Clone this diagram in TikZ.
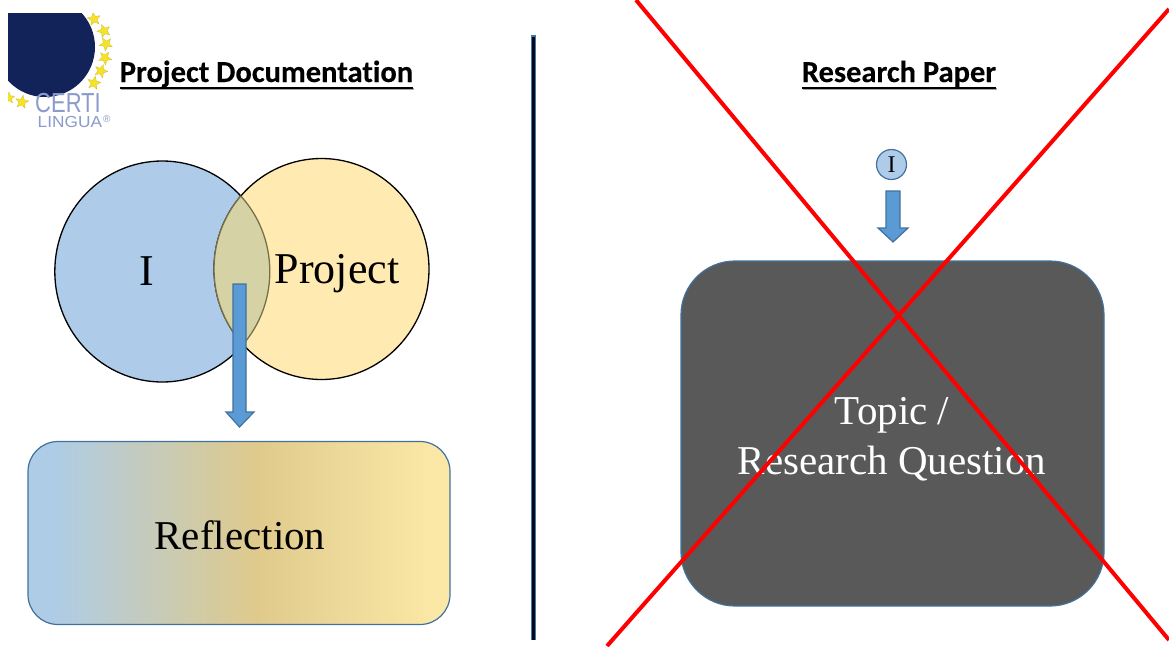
\documentclass[tikz,border=0pt]{standalone}
\usepackage{fontspec}
\setmainfont{Liberation Serif}
\newfontfamily\headfont[Ligatures={NoCommon},FakeBold=0.25]{Carlito}
\newfontfamily\logofont{Liberation Sans}
\usetikzlibrary{shapes.geometric,shapes.arrows}
\definecolor{ablue}{HTML}{5B9BD5}
\definecolor{edgeblue}{HTML}{41719C}
\definecolor{cblue}{HTML}{AECCEA}
\definecolor{cyellow}{HTML}{FFEAB2}
\definecolor{overlapc}{HTML}{D5D3A6}
\definecolor{overlapedge}{HTML}{7A7048}
\definecolor{navy}{HTML}{12235A}
\definecolor{logotxt}{HTML}{8C9BCB}
\definecolor{starc}{HTML}{F7E22B}
\definecolor{darkbox}{HTML}{595959}
\pgfdeclarehorizontalshading{refgrad}{100bp}{
  color(0bp)=({rgb,255:red,174;green,204;blue,230});
  color(28bp)=({rgb,255:red,174;green,204;blue,230});
  color(52bp)=({rgb,255:red,223;green,202;blue,140});
  color(73bp)=({rgb,255:red,251;green,232;blue,166});
  color(100bp)=({rgb,255:red,251;green,232;blue,166})}
\tikzset{
  x=1pt,y=-1pt,
  serif44/.style={font=\fontsize{44}{44}\selectfont,anchor=base,inner sep=0pt},
  serif41/.style={font=\fontsize{41}{41}\selectfont,anchor=base,inner sep=0pt},
  headtext/.style={font=\headfont\bfseries\fontsize{30.5}{30}\selectfont,anchor=base,inner sep=0pt},
  vennc/.style={ellipse,draw=black,line width=1.3pt,minimum width=215pt,minimum height=221pt,inner sep=0pt},
  downarrow/.style={draw=edgeblue,line width=1.2pt,fill=ablue,line join=miter},
  logostar/.style={star,star points=5,star point ratio=2.3,fill=starc,draw=starc!80!black,line width=.2pt,minimum size=14pt,inner sep=0pt},
  redline/.style={draw=red,line width=4pt},
}
\begin{document}
\begin{tikzpicture}
\useasboundingbox (0,0) rectangle (1169,646);
\fill[white] (0,0) rectangle (1169,646);

% logo
\begin{scope}
\clip (8,13) rectangle (120,130);
\fill[navy] (45,47) circle[radius=50];
\foreach \n/\px/\py/\r in {a/94/19/10,b/104/31/20,c/106/44/30,d/105/58/40,e/101/71/50,f/94/83/60,h/22/102/-10}
  \node[logostar,rotate=\r] (star\n) at (\px,\py) {};
\node[logostar,minimum size=12pt] (stari) at (9,98) {};
\end{scope}
\node[font=\logofont\fontsize{27.5}{27}\selectfont,text=logotxt,anchor=base west,inner sep=0pt] (certi) at (35,112.5) {\scalebox{.8}[1]{CERTI}};
\node[font=\logofont\fontsize{16}{16}\selectfont,text=logotxt,anchor=base west,inner sep=0pt] (lingua) at (37.5,127) {\scalebox{1.08}[1]{LINGUA}};
\node[font=\logofont\fontsize{10}{10}\selectfont,text=logotxt,anchor=base west,inner sep=0pt] (reg) at (103,122) {®};

% headings
\node[headtext] (hleft) at (266.5,82) {Project Documentation};
\node[headtext] (hright) at (899,82) {Research Paper};
\draw[line width=2pt,gray!70] ([xshift=1pt,yshift=-7pt]hleft.base west) -- ([xshift=1pt,yshift=-7pt]hleft.base east);
\draw[line width=2pt,gray!70] ([xshift=1pt,yshift=-7pt]hright.base west) -- ([xshift=1pt,yshift=-7pt]hright.base east);
\draw[line width=2pt,black] ([yshift=-5.5pt]hleft.base west) -- ([yshift=-5.5pt]hleft.base east);
\draw[line width=2pt,black] ([yshift=-5.5pt]hright.base west) -- ([yshift=-5.5pt]hright.base east);

% venn
\node[vennc,fill=cblue] (vi) at (162.3,271.5) {};
\node[vennc,fill=cyellow] (vp) at (321.5,269) {};
\begin{scope}
\clip (162.3,271.5) ellipse[x radius=107.5,y radius=110.5];
\fill[overlapc] (321.5,269) ellipse[x radius=107.5,y radius=110.5];
\draw[overlapedge,line width=1.3pt] (321.5,269) ellipse[x radius=107.5,y radius=110.5];
\end{scope}
\begin{scope}
\clip (321.5,269) ellipse[x radius=107.5,y radius=110.5];
\draw[overlapedge,line width=1.3pt] (162.3,271.5) ellipse[x radius=107.5,y radius=110.5];
\end{scope}
\node[serif44] (ti) at (146.7,285) {I};
\node[serif44] (tp) at (337,283) {Project};

% arrow left
\draw[downarrow] (233,284) -- (246,284) -- (246,412) -- (254,412) -- (239.5,427) -- (226,412) -- (233,412) -- cycle;

% gradient box
\path[shade,shading=refgrad,draw=edgeblue,line width=1.2pt,rounded corners=30pt] (28,441.5) rectangle (450,624.5);
\node[serif41] (trefl) at (240,549) {Reflection};

% divider
\draw[edgeblue!80!ablue,line width=5.5pt] (533.3,34.5) -- (533.3,640);
\draw[black!70!navy,line width=2.8pt] (533.3,36.5) -- (533.3,640);

% right side
\node[circle,draw=edgeblue,line width=1.2pt,fill=cblue,minimum size=30pt,inner sep=0pt] (smalli) at (891.5,164.5) {};
\node[font=\fontsize{24}{24}\selectfont,anchor=base,inner sep=0pt] (smallt) at (891.5,172.5) {I};
\draw[downarrow] (886,191) -- (900,191) -- (900,228) -- (908,228) -- (893,242) -- (878,228) -- (886,228) -- cycle;
\path[fill=darkbox,draw=edgeblue,line width=1.2pt,rounded corners=54pt] (681,261) rectangle (1104,606);
\node[serif41,text=white] (ttopic) at (892,424) {Topic /};
\node[serif41,text=white] (tquest) at (892,474) {Research Question};

% cross
\coordinate (c1a) at (636,0);
\coordinate (c1b) at (1169,640);
\coordinate (c2a) at (607,646);
\coordinate (c2b) at (1169,9);
\begin{scope}
\clip (0,0) rectangle (1169,646);
\draw[redline] (c1a) -- (c1b);
\draw[redline] (c2a) -- (c2b);
\end{scope}
\end{tikzpicture}
\end{document}
